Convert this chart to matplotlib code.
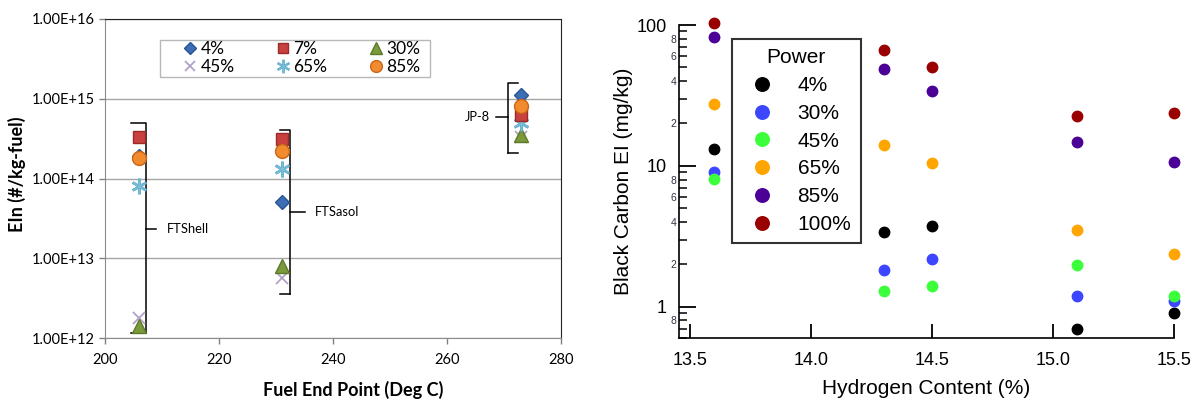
import numpy as np
import matplotlib
matplotlib.use("Agg")
import matplotlib.pyplot as plt
from matplotlib.patches import Rectangle
from matplotlib.ticker import FuncFormatter, LogLocator, FixedLocator

# ---- left panel: EIn vs fuel end point ----
end_point = [206, 231, 273]           # FT Shell, FT Sasol, JP-8
ein_4 = [1.9e14, 5.1e13, 1.12e15]
ein_7 = [3.35e14, 3.1e14, 6.3e14]
ein_30 = [1.4e12, 8.0e12, 3.5e14]
ein_45 = [1.8e12, 5.7e12, 3.3e14]
ein_65 = [8.0e13, 1.3e14, 5.0e14]
ein_85 = [1.8e14, 2.2e14, 8.2e14]
fuel_names = ["FTShell", "FTSasol", "JP-8"]

# ---- right panel: black carbon EI vs hydrogen content ----
hydrogen = [13.6, 14.3, 14.5, 15.1, 15.5]
bc_4 = [13.1, 3.4, 3.77, 0.70, 0.90]
bc_30 = [9.1, 1.81, 2.2, 1.2, 1.09]
bc_45 = [8.1, 1.3, 1.41, 1.99, 1.2]
bc_65 = [27.7, 14.0, 10.5, 3.49, 2.38]
bc_85 = [82.6, 48.6, 34.1, 14.8, 10.6]
bc_100 = [103, 66.4, 50.0, 22.6, 23.9]

fig = plt.figure(figsize=(11.96, 4), dpi=100)

# ================= left =================
lfont = ["Lato", "DejaVu Sans"]
ax1 = fig.add_axes([105 / 1196, 1 - 338 / 400, 456 / 1196, 319 / 400])
ax1.set_yscale("log")
ax1.set_xlim(200, 280)
ax1.set_ylim(1e12, 1e16)

left_series = [
    ("4%", ein_4, dict(marker="D", ms=7.5, mfc="#3d6db4", mec="#2a5595")),
    ("7%", ein_7, dict(marker="s", ms=9, mfc="#c8413e", mec="#9a2b28")),
    ("30%", ein_30, dict(marker="^", ms=10, mfc="#7a9a3c", mec="#5d7a2a")),
    ("45%", ein_45, dict(marker="x", ms=9, mew=1.3, mec="#b3a2c7")),
    ("65%", ein_65, dict(marker="$\u2217$", ms=11, mfc="#7dbfd6", mec="#5aaccb", mew=0.6)),
    ("85%", ein_85, dict(marker="o", ms=10, mfc="#f28a2e", mec="#c8661a")),
]
handles = {}
draw_order = ["45%", "30%", "65%", "7%", "4%", "85%"]
for name, vals, style in left_series:
    z = 3 + draw_order.index(name)
    h, = ax1.plot(end_point, vals, ls="none", zorder=z, clip_on=False, **style)
    handles[name] = h

ax1.grid(axis="y", which="major", color="#a6a6a6", lw=1)
ax1.set_axisbelow(True)
ax1.minorticks_off()
ax1.yaxis.set_major_locator(LogLocator(base=10, numticks=10))
ax1.yaxis.set_minor_locator(FixedLocator([]))
ax1.yaxis.set_major_formatter(FuncFormatter(lambda v, p: f"{v:.2E}"))
ax1.set_xticks([200, 220, 240, 260, 280])
ax1.tick_params(axis="both", labelsize=10.5, color="#808080", length=4, width=1)
ax1.tick_params(axis="x", pad=7)
for lab in ax1.get_xticklabels() + ax1.get_yticklabels():
    lab.set_family(lfont)
for s in ["top", "right"]:
    ax1.spines[s].set_color("#222222")
for s in ["left", "bottom"]:
    ax1.spines[s].set_color("#8c8c8c")

# legend frame drawn separately so the entries can sit where they belong
ax1.add_patch(Rectangle((0.1206, 0.818), 0.592, 0.116, transform=ax1.transAxes,
                        fill=True, facecolor="white", edgecolor="#b8b8b8", lw=1,
                        zorder=9, clip_on=False))
leg_order = ["4%", "45%", "7%", "65%", "30%", "85%"]
leg1 = ax1.legend([handles[k] for k in leg_order], leg_order, ncol=3,
                  loc="upper left", bbox_to_anchor=(0.171, 0.931, 0.52, 0.0),
                  mode="expand", frameon=False,
                  prop={"family": lfont, "size": 12.5}, handlelength=0.8,
                  handletextpad=0.2, labelspacing=0.12, borderpad=0,
                  borderaxespad=0, markerscale=0.85)
leg1.set_zorder(10)


def brace(ax, x_line, x_hook, x_tip, y_top, y_bot, y_tip):
    kw = dict(color="black", lw=1.1, clip_on=False, zorder=2)
    ax.plot([x_hook, x_line, x_line], [y_top, y_top, y_bot], **kw)
    ax.plot([x_line, x_hook], [y_bot, y_bot], **kw)
    ax.plot([x_line, x_tip], [y_tip, y_tip], **kw)


brace(ax1, 207.2, 204.6, 209.0, 4.9e14, 1.15e12, 2.3e13)
brace(ax1, 232.5, 230.7, 235.1, 4.1e14, 3.55e12, 3.76e13)
brace(ax1, 270.65, 272.4, 268.6, 1.58e15, 2.1e14, 5.96e14)
ax1.text(210.8, 2.3e13, fuel_names[0], fontsize=9.3, va="center", ha="left", family=lfont)
ax1.text(236.8, 3.76e13, fuel_names[1], fontsize=9.3, va="center", ha="left", family=lfont)
ax1.text(267.6, 5.96e14, fuel_names[2], fontsize=9.3, va="center", ha="right", family=lfont)

fig.text(353 / 1196, 1 - 390 / 400, "Fuel End Point (Deg C)", ha="center", va="center",
         fontsize=13, fontweight="bold", family=lfont)
fig.text(17 / 1196, 1 - 174 / 400, "EIn (#/kg-fuel)", ha="center", va="center",
         rotation=90, fontsize=13, fontweight="bold", family=lfont)

# ================= right =================
rfont = ["Liberation Sans", "DejaVu Sans"]
ax2 = fig.add_axes([679 / 1196, 1 - 338 / 400, 495 / 1196, 313 / 400])
ax2.set_yscale("log")
ax2.set_ylim(0.6, 100)
ax2.set_xlim(13.455, 15.5)

right_series = [
    ("4%", bc_4, "#000000"),
    ("30%", bc_30, "#3c46ff"),
    ("45%", bc_45, "#3cff3c"),
    ("65%", bc_65, "#ffa500"),
    ("85%", bc_85, "#4b0096"),
    ("100%", bc_100, "#9a0000"),
]
for name, vals, col in right_series:
    ax2.plot(hydrogen, vals, ls="none", marker="o", ms=7.5, mfc=col, mec=col,
             label=name, clip_on=False, zorder=3)

for s in ["top", "right"]:
    ax2.spines[s].set_visible(False)
for s in ["left", "bottom"]:
    ax2.spines[s].set_linewidth(1.2)

ax2.set_xticks([13.5, 14.0, 14.5, 15.0, 15.5])
ax2.xaxis.set_major_formatter(FuncFormatter(lambda v, p: f"{v:.1f}"))
ax2.yaxis.set_major_locator(FixedLocator([1, 10, 100]))
ax2.yaxis.set_major_formatter(FuncFormatter(lambda v, p: f"{v:g}"))
ax2.yaxis.set_minor_locator(LogLocator(base=10, subs=np.arange(2, 10), numticks=20))


def minor_fmt(v, p):
    if v < 0.65:
        return ""
    lead = int(round(v / 10 ** np.floor(np.log10(v) + 1e-9)))
    return f"{lead}" if lead in (2, 4, 6, 8) else ""


ax2.yaxis.set_minor_formatter(FuncFormatter(minor_fmt))
ax2.tick_params(axis="x", direction="in", length=10, width=1.3, labelsize=13, pad=10)
ax2.tick_params(axis="y", which="major", direction="in", length=12, width=1.3,
                labelsize=13, pad=9)
ax2.tick_params(axis="y", which="minor", direction="in", length=5.5, width=1.1,
                labelsize=7.5, pad=2, labelcolor="#333344")
for lab in ax2.get_xticklabels() + ax2.get_yticklabels() + ax2.get_yticklabels(minor=True):
    lab.set_family(rfont)

ax2.set_xlabel("Hydrogen Content (%)", fontsize=15, family=rfont, labelpad=7)
ax2.set_ylabel("Black Carbon EI (mg/kg)", fontsize=15, family=rfont, labelpad=2)

leg2 = ax2.legend(title="Power", loc="upper left", bbox_to_anchor=(0.107, 0.955),
                  borderaxespad=0, fancybox=False, edgecolor="black",
                  prop={"family": rfont, "size": 15},
                  title_fontproperties={"family": rfont, "size": 15},
                  markerscale=1.3, handlelength=2.0, handletextpad=0.7,
                  labelspacing=0.42, borderpad=0.45)
leg2.get_frame().set_linewidth(1.5)

fig.savefig("out.png", dpi=100)
